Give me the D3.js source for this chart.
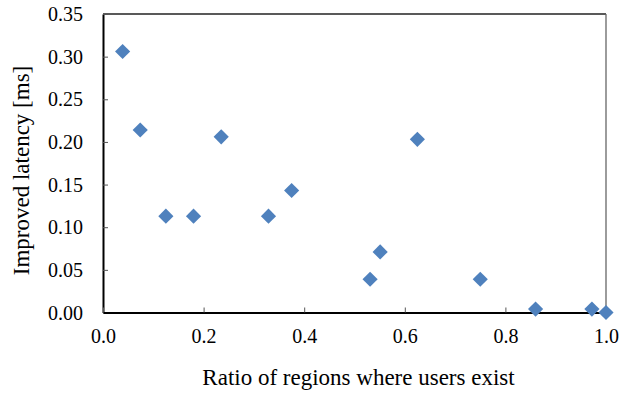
<!DOCTYPE html>
<html>
<head>
<meta charset="utf-8">
<script src="https://cdn.jsdelivr.net/npm/d3@7"></script>
<style>
  html, body { margin: 0; padding: 0; background: #fff; }
  svg { display: block; }
  svg text { font-family: "Liberation Serif", "Times New Roman", Times, Tinos, "Noto Serif", "DejaVu Serif", serif !important; fill: #000; }
</style>
</head>
<body>
<svg id="chart" width="628" height="393"></svg>
<script>
// Data
const ratio   = [0.039, 0.074, 0.125, 0.180, 0.235, 0.329, 0.375, 0.531, 0.551, 0.625, 0.750, 0.860, 0.972, 1.000];
const latency = [0.306, 0.214, 0.113, 0.113, 0.206, 0.113, 0.143, 0.039, 0.071, 0.203, 0.039, 0.004, 0.004, 0.000];
const xTicks = [0, 0.2, 0.4, 0.6, 0.8, 1.0];
const yTicks = [0, 0.05, 0.10, 0.15, 0.20, 0.25, 0.30, 0.35];
const xTitle = "Ratio of regions where users exist";
const yTitle = "Improved latency [ms]";

const svg = d3.select("#chart");
const L = 103, R = 606, T = 14, B = 312.5;

const x = d3.scaleLinear().domain([0, 1]).range([L, R]);
const y = d3.scaleLinear().domain([0, 0.35]).range([B, T]);

// top and right frame
svg.append("line").attr("x1", L).attr("x2", R).attr("y1", T).attr("y2", T)
  .attr("stroke", "#222").attr("stroke-width", 1.3);
svg.append("line").attr("x1", R).attr("x2", R).attr("y1", T).attr("y2", B)
  .attr("stroke", "#666").attr("stroke-width", 1.3);

// y axis
const yAxis = d3.axisLeft(y).tickValues(yTicks).tickFormat(d3.format(".2f"))
  .tickSizeInner(-5).tickSizeOuter(0).tickPadding(20);
const gy = svg.append("g").attr("transform", `translate(${L},0)`).call(yAxis);
gy.attr("font-family", null);
gy.select(".domain").attr("stroke", "#000").attr("stroke-width", 2);
gy.selectAll(".tick line").attr("stroke", "#555").attr("stroke-width", 1);
gy.selectAll(".tick text").attr("font-size", 20)
  .attr("x", -20).attr("dy", "0.33em");

// x axis
const xAxis = d3.axisBottom(x).tickValues(xTicks).tickFormat(d3.format(".1f"))
  .tickSizeInner(-5).tickSizeOuter(0).tickPadding(16);
const gx = svg.append("g").attr("transform", `translate(0,${B})`).call(xAxis);
gx.attr("font-family", null);
gx.select(".domain").attr("stroke", "#000").attr("stroke-width", 2);
gx.selectAll(".tick line").attr("stroke", "#555").attr("stroke-width", 1);
gx.selectAll(".tick text").attr("font-size", 20)
  .attr("y", 30).attr("dy", 0);

// points (diamonds)
const diamond = d3.symbol().type(d3.symbolSquare).size(115);
svg.append("g").selectAll("path").data(ratio.map((r, i) => [r, latency[i]]))
  .join("path")
  .attr("d", diamond)
  .attr("transform", d => `translate(${x(d[0])},${y(d[1])}) rotate(45)`)
  .attr("fill", "#4F81BD");

// axis titles
svg.append("text").attr("x", 358.5).attr("y", 385).attr("text-anchor", "middle")
  .attr("font-size", 23).text(xTitle);
svg.append("text").attr("transform", "translate(29,170.5) rotate(-90)")
  .attr("text-anchor", "middle").attr("font-size", 23).text(yTitle);
</script>
</body>
</html>
